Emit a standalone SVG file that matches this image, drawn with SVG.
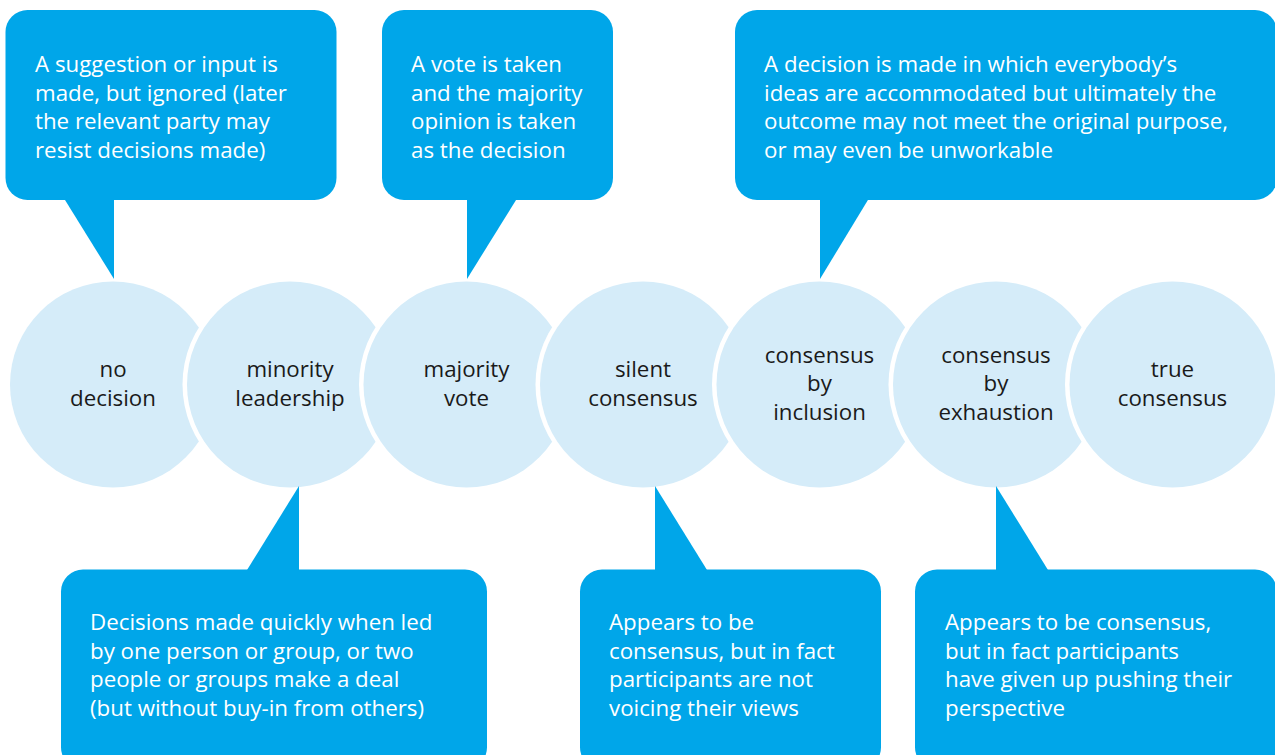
<svg xmlns="http://www.w3.org/2000/svg" width="1275" height="755" viewBox="0 0 1275 755">
<style>
.bg{fill:#ffffff}
.gap{fill:#ffffff}
.circ{fill:#d5ecf9}
.call{fill:#00a6e9}
.ct{font-family:"Open Sans",Lato,"Liberation Sans",sans-serif;font-size:22.3px;fill:#1a1a1a;text-anchor:middle}
.wt{font-family:"Open Sans",Lato,"Liberation Sans",sans-serif;font-size:22.3px;fill:#ffffff}
</style>
<rect class="bg" x="0" y="0" width="1275" height="755"/>
<g id="stages">
<g id="no-decision"><circle class="gap" cx="113" cy="384.5" r="107.5"/><circle class="circ" cx="113" cy="384.5" r="103"/><text class="ct" x="113" y="377">no</text><text class="ct" x="113" y="405.5">decision</text></g>
<g id="minority-leadership"><circle class="gap" cx="290" cy="384.5" r="107.5"/><circle class="circ" cx="290" cy="384.5" r="103"/><text class="ct" x="290" y="377">minority</text><text class="ct" x="290" y="405.5">leadership</text></g>
<g id="majority-vote"><circle class="gap" cx="466.5" cy="384.5" r="107.5"/><circle class="circ" cx="466.5" cy="384.5" r="103"/><text class="ct" x="466.5" y="377">majority</text><text class="ct" x="466.5" y="405.5">vote</text></g>
<g id="silent-consensus"><circle class="gap" cx="643" cy="384.5" r="107.5"/><circle class="circ" cx="643" cy="384.5" r="103"/><text class="ct" x="643" y="377">silent</text><text class="ct" x="643" y="405.5">consensus</text></g>
<g id="consensus-by-inclusion"><circle class="gap" cx="819.5" cy="384.5" r="107.5"/><circle class="circ" cx="819.5" cy="384.5" r="103"/><text class="ct" x="819.5" y="362.5">consensus</text><text class="ct" x="819.5" y="391">by</text><text class="ct" x="819.5" y="419.5">inclusion</text></g>
<g id="consensus-by-exhaustion"><circle class="gap" cx="996" cy="384.5" r="107.5"/><circle class="circ" cx="996" cy="384.5" r="103"/><text class="ct" x="996" y="362.5">consensus</text><text class="ct" x="996" y="391">by</text><text class="ct" x="996" y="419.5">exhaustion</text></g>
<g id="true-consensus"><circle class="gap" cx="1172.5" cy="384.5" r="107.5"/><circle class="circ" cx="1172.5" cy="384.5" r="103"/><text class="ct" x="1172.5" y="377">true</text><text class="ct" x="1172.5" y="405.5">consensus</text></g>
</g>
<g id="connectors">
<polygon class="call" points="58.8,190 114,190 114,279"/>
<polygon class="call" points="467,190 522.2,190 467,279"/>
<polygon class="call" points="820,190 874,190 820,279"/>
<polygon class="call" points="240.8,580 299,580 299,486"/>
<polygon class="call" points="655,580 713.2,580 655,486"/>
<polygon class="call" points="996,580 1054.2,580 996,486"/>
</g>
<g id="note-no-decision"><rect class="call" x="5.5" y="10" width="331" height="190" rx="22"/>
<text class="wt" x="35" y="72">A suggestion or input is</text>
<text class="wt" x="35" y="100.5">made, but ignored (later</text>
<text class="wt" x="35" y="129">the relevant party may</text>
<text class="wt" x="35" y="157.5">resist decisions made)</text></g>
<g id="note-majority-vote"><rect class="call" x="382" y="10" width="231" height="190" rx="22"/>
<text class="wt" x="411" y="72">A vote is taken</text>
<text class="wt" x="411" y="100.5">and the majority</text>
<text class="wt" x="411" y="129">opinion is taken</text>
<text class="wt" x="411" y="157.5">as the decision</text></g>
<g id="note-inclusion"><rect class="call" x="735" y="10" width="542" height="190" rx="22"/>
<text class="wt" x="764" y="72">A decision is made in which everybody’s</text>
<text class="wt" x="764" y="100.5">ideas are accommodated but ultimately the</text>
<text class="wt" x="764" y="129">outcome may not meet the original purpose,</text>
<text class="wt" x="764" y="157.5">or may even be unworkable</text></g>
<g id="note-minority"><rect class="call" x="61" y="569.5" width="426" height="200" rx="22"/>
<text class="wt" x="90" y="630">Decisions made quickly when led</text>
<text class="wt" x="90" y="658.5">by one person or group, or two</text>
<text class="wt" x="90" y="687">people or groups make a deal</text>
<text class="wt" x="90" y="715.5">(but without buy-in from others)</text></g>
<g id="note-silent"><rect class="call" x="580" y="569.5" width="301" height="200" rx="22"/>
<text class="wt" x="609" y="630">Appears to be</text>
<text class="wt" x="609" y="658.5">consensus, but in fact</text>
<text class="wt" x="609" y="687">participants are not</text>
<text class="wt" x="609" y="715.5">voicing their views</text></g>
<g id="note-exhaustion"><rect class="call" x="915" y="569.5" width="362" height="200" rx="22"/>
<text class="wt" x="945" y="630">Appears to be consensus,</text>
<text class="wt" x="945" y="658.5">but in fact participants</text>
<text class="wt" x="945" y="687">have given up pushing their</text>
<text class="wt" x="945" y="715.5">perspective</text></g>
</svg>
